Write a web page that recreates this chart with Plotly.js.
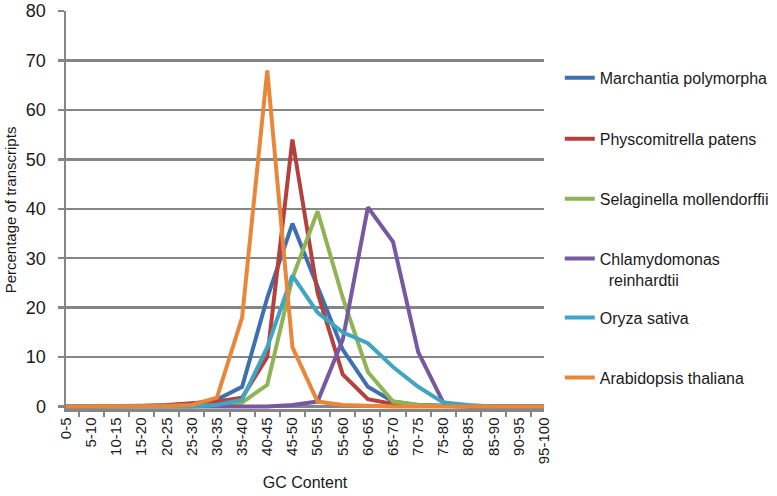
<!DOCTYPE html>
<html>
<head>
<meta charset="utf-8">
<script src="https://cdn.plot.ly/plotly-3.0.1.min.js"></script>
<style>html,body{margin:0;padding:0;background:#fff;}#chart{width:777px;height:496px;}</style>
</head>
<body>
<div id="chart"></div>
<script>
var categories = ['0-5','5-10','10-15','15-20','20-25','25-30','30-35','35-40','40-45','45-50','50-55','55-60','60-65','65-70','70-75','75-80','80-85','85-90','90-95','95-100'];
var seriesNames = ['Marchantia polymorpha','Physcomitrella patens','Selaginella mollendorffii','Chlamydomonas<br>\u00a0\u00a0reinhardtii','Oryza sativa','Arabidopsis thaliana'];
var yTickVals = [0,10,20,30,40,50,60,70,80];
var marchantia     = [0,0,0,0.1,0.2,0.5,1.4,4,22,37,24,11.5,4,1,0.3,0.1,0,0,0,0];
var physcomitrella = [0,0,0,0.1,0.3,0.6,1,1.8,10,54,23,6.5,1.5,0.5,0.2,0.1,0,0,0,0];
var selaginella    = [0,0,0,0,0,0,0.2,0.8,4.4,26,39.5,22,7,1,0.3,0.1,0,0,0,0];
var chlamydomonas  = [0,0,0,0,0,0,0,0,0,0.3,1,13.5,40.3,33.3,11,0.8,0,0,0,0];
var oryza          = [0,0,0,0,0,0,0.3,1.4,12,26.5,19,15,12.8,8,4,0.8,0.3,0,0,0];
var arabidopsis    = [0,0,0,0,0.1,0.3,1.8,18,68,12,1,0.3,0.1,0,0,0,0,0,0,0];

var values = [marchantia, physcomitrella, selaginella, chlamydomonas, oryza, arabidopsis];
var colors = ['#3F6FAF','#B5413F','#8FB355','#7659A0','#3FA5C0','#E8873A'];
var legendIds = ['legend','legend2','legend3','legend4','legend5','legend6'];
var legendCenters = [72,133,193,253,312,372];

var H = 496, T = 11, B = 86.5;
var plotH = H - T - B;
function py(p){ return (H - B - p) / plotH; }

var traces = values.map(function(v,i){
  return {x: categories, y: v, type:'scatter', mode:'lines', name: seriesNames[i],
    line:{color: colors[i], width:4}, legend: legendIds[i]};
});

var txt = '#1a1a1a';
var layout = {
  width:777, height:496,
  margin:{l:66, r:233, t:T, b:B, autoexpand:false},
  paper_bgcolor:'#fff', plot_bgcolor:'#fff',
  font:{family:'Liberation Sans, Arial, sans-serif', size:15, color:txt},
  showlegend:true,
  xaxis:{type:'category', tickangle:-90, tickson:'boundaries', ticks:'outside', ticklen:5, tickwidth:2, tickcolor:'#868686',
    showline:true, linecolor:'#868686', linewidth:2.5, showgrid:false, zeroline:false,
    tickfont:{size:15, color:txt},
    title:{text:'GC Content', font:{size:16, color:txt}, standoff:14}},
  yaxis:{range:[-0.5,80], tickvals:yTickVals, ticks:'outside', ticklen:6, tickwidth:2.5, tickcolor:'#868686',
    showline:true, linecolor:'#868686', linewidth:2.5, gridcolor:'#868686', gridwidth:2.5, zeroline:false,
    tickfont:{size:18, color:txt}, ticklabelstandoff:8,
    title:{text:'Percentage of transcripts', font:{size:15, color:txt}, standoff:6}}
};
legendIds.forEach(function(id,i){
  layout[id] = {x:1.033, xanchor:'left', y: py(legendCenters[i]-11), yanchor:'top', valign:'top',
    bgcolor:'rgba(0,0,0,0)', borderwidth:0, font:{size:16, color:txt}};
});

Plotly.newPlot('chart', traces, layout, {displayModeBar:false, staticPlot:true});
</script>
</body>
</html>
